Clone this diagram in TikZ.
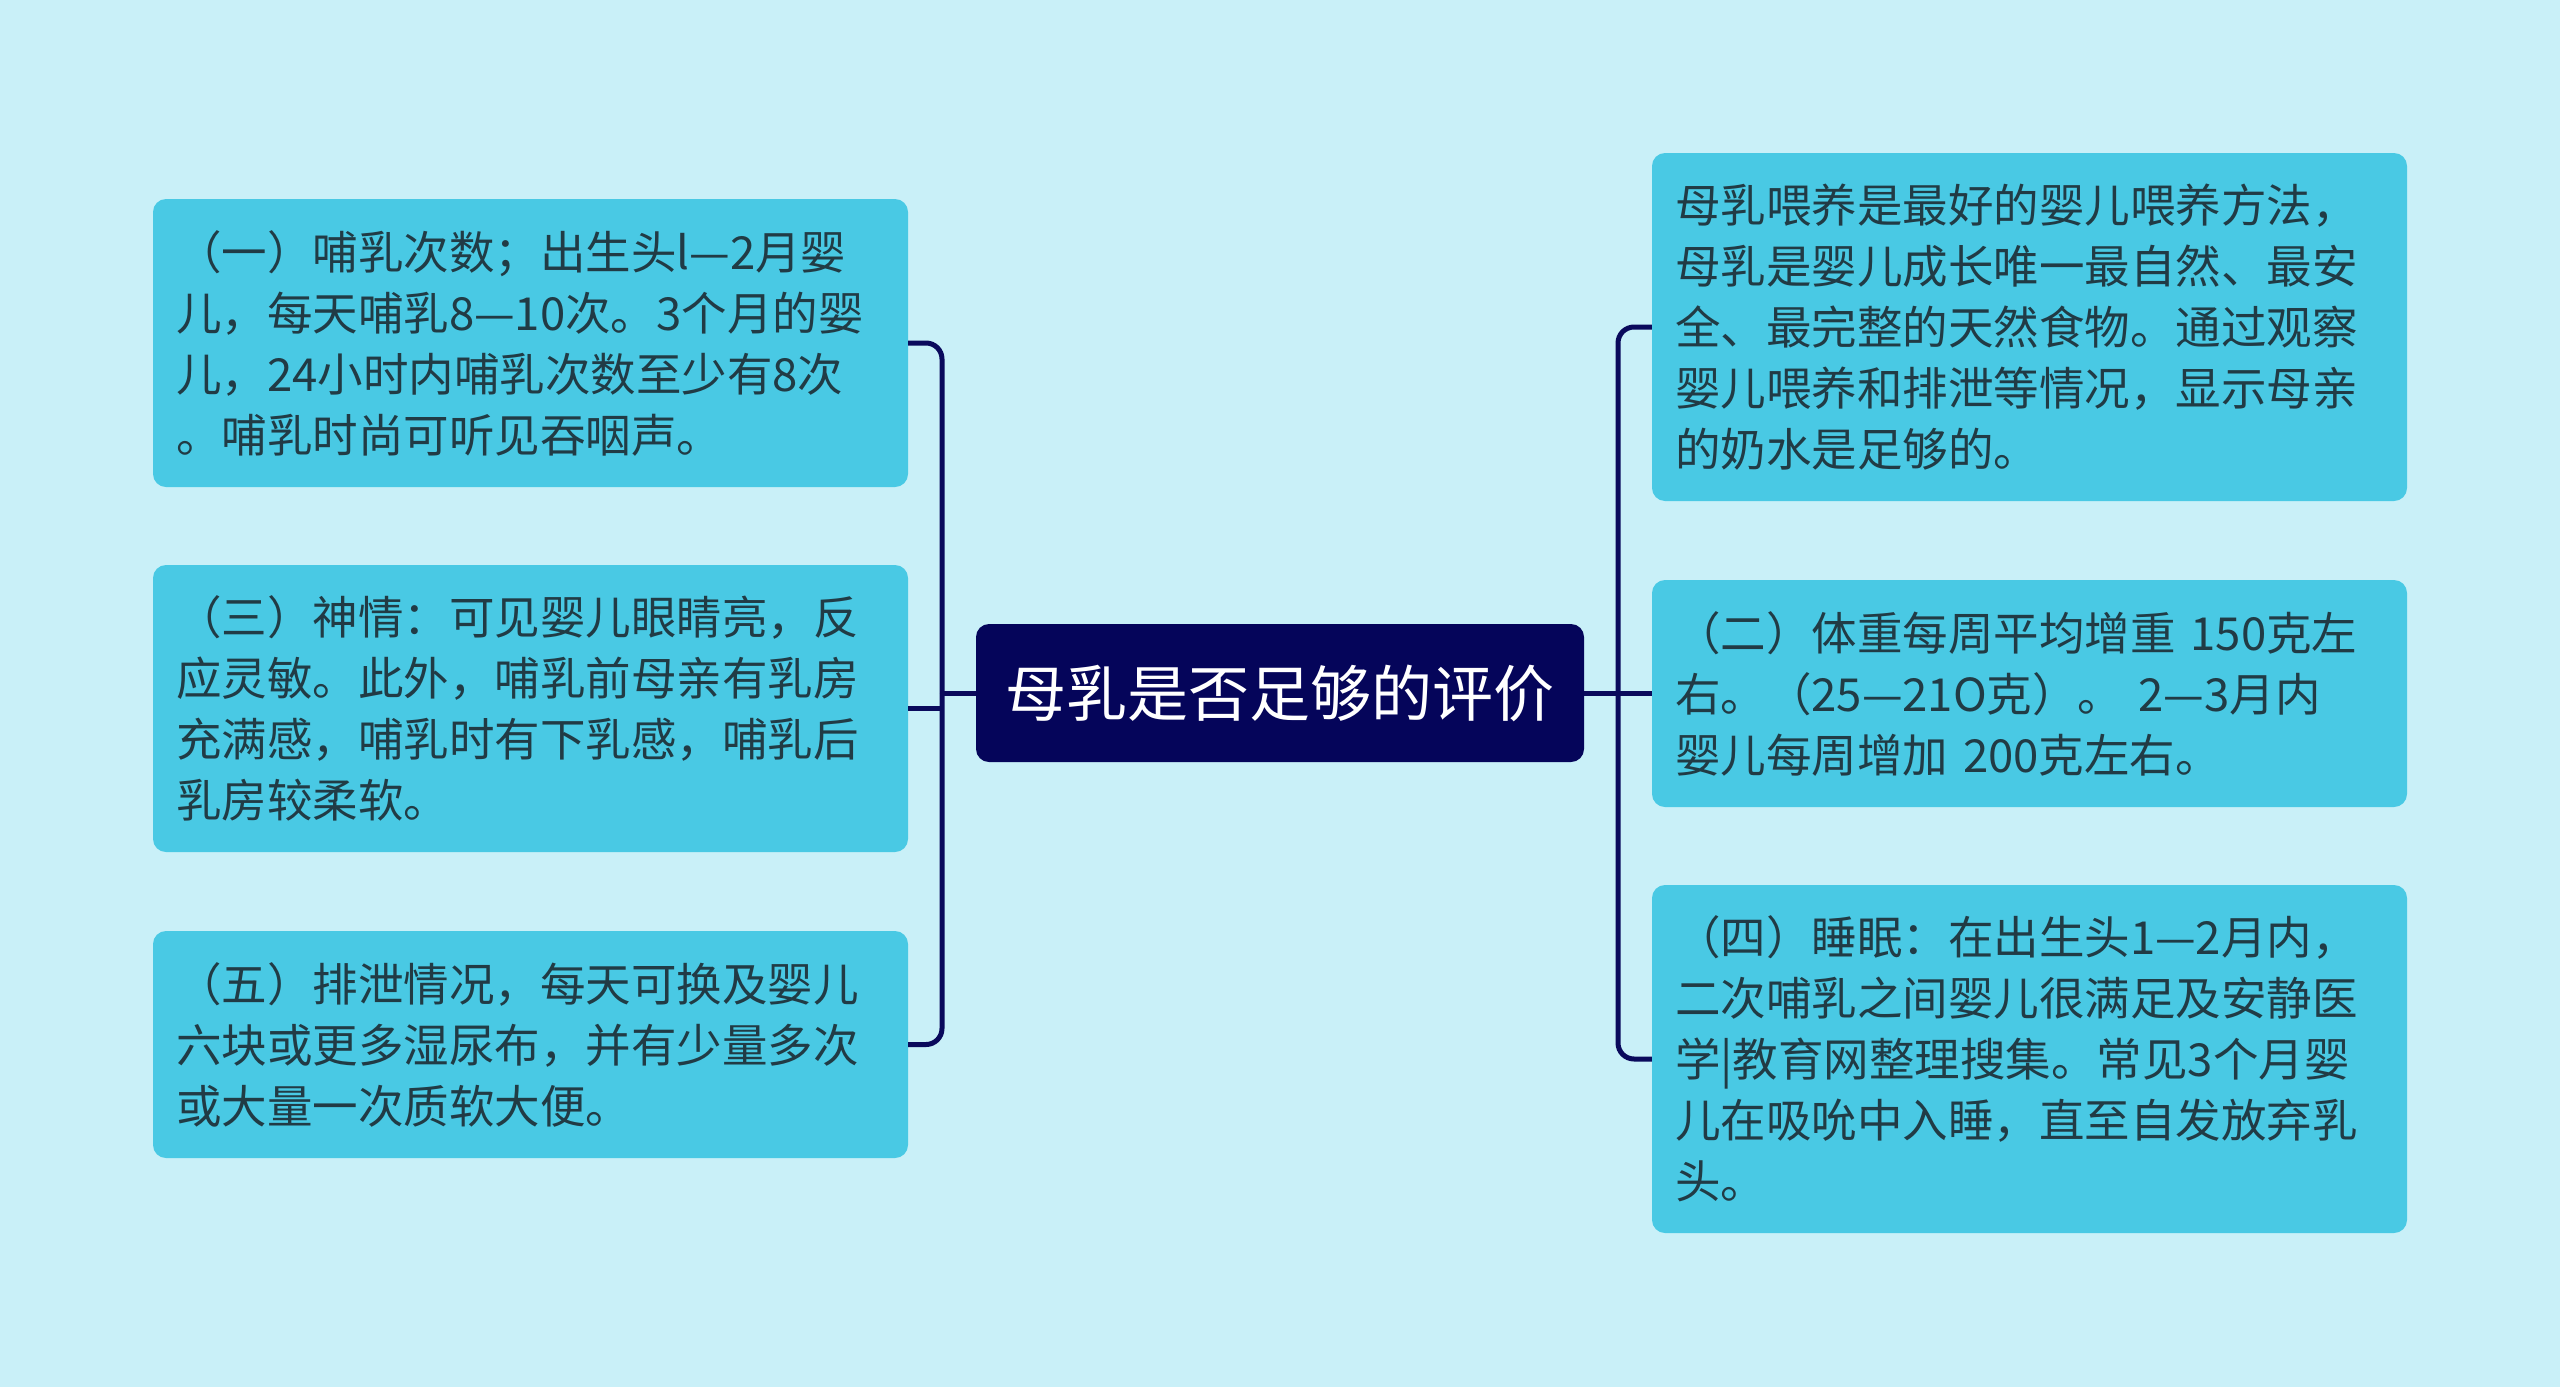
\documentclass[tikz,border=0pt]{standalone}
\usepackage{fontspec}
\setmainfont{Noto Sans CJK SC}
\definecolor{bgcol}{HTML}{C9F0F8}
\definecolor{leafcol}{HTML}{49C9E4}
\definecolor{inkcol}{HTML}{213B45}
\definecolor{rootcol}{HTML}{05055A}
\definecolor{linkcol}{HTML}{0A0A5C}

\begin{document}
\begin{tikzpicture}[x=1pt,y=-1pt]
      \fill[bgcol] (0,0) rectangle (2560,1387);
      \useasboundingbox (0,0) rectangle (2560,1387);
      \begin{scope}[every node/.style={rectangle,rounded corners=13pt,fill=leafcol,text=inkcol,
          inner xsep=23pt,inner ysep=0pt,text width=709pt,align=left,
          font=\fontsize{45.5}{61}\selectfont}]
        \node[minimum height=288pt] (L1) at (530.5,343) {（一）哺乳次数；出生头l—2月婴\\儿，每天哺乳8—10次。3个月的婴\\儿，24小时内哺乳次数至少有8次\\。哺乳时尚可听见吞咽声。};
        \node[minimum height=287pt] (L2) at (530.5,708.5) {（三）神情：可见婴儿眼睛亮，反\\应灵敏。此外，哺乳前母亲有乳房\\充满感，哺乳时有下乳感，哺乳后\\乳房较柔软。};
        \node[minimum height=227pt] (L3) at (530.5,1044.5) {（五）排泄情况，每天可换及婴儿\\六块或更多湿尿布，并有少量多次\\或大量一次质软大便。};
        \node[minimum height=348pt] (R1) at (2029.5,327) {母乳喂养是最好的婴儿喂养方法，\\母乳是婴儿成长唯一最自然、最安\\全、最完整的天然食物。通过观察\\婴儿喂养和排泄等情况，显示母亲\\的奶水是足够的。};
        \node[minimum height=227pt] (R2) at (2029.5,693.5) {（二）体重每周平均增重 150克左\\右。（25—21O克）。 2—3月内\\婴儿每周增加 200克左右。};
        \node[minimum height=348pt] (R3) at (2029.5,1059) {（四）睡眠：在出生头1—2月内，\\二次哺乳之间婴儿很满足及安静医\\学|教育网整理搜集。常见3个月婴\\儿在吸吮中入睡，直至自发放弃乳\\头。};
      \end{scope}
      \node[rectangle,rounded corners=13pt,fill=rootcol,text=white,minimum width=608pt,
        minimum height=138pt,font=\fontsize{61}{70}\selectfont] (root) at (1280,693) {母乳是否足够的评价};
      \coordinate (jl) at (942,693);
      \coordinate (jr) at (1618,693);
      \begin{scope}[line width=5pt,draw=linkcol,rounded corners=16pt]
        \draw (root.west) -- (jl);
        \draw (L1.east) -| (jl);
        \draw (L2.east) -- (L2.east -| jl);
        \draw (L3.east) -| (jl);
        \draw (root.east) -- (jr);
        \draw (R1.west) -| (jr);
        \draw (R2.west) -- (R2.west -| jr);
        \draw (R3.west) -| (jr);
      \end{scope}
    \end{tikzpicture}
\end{document}
